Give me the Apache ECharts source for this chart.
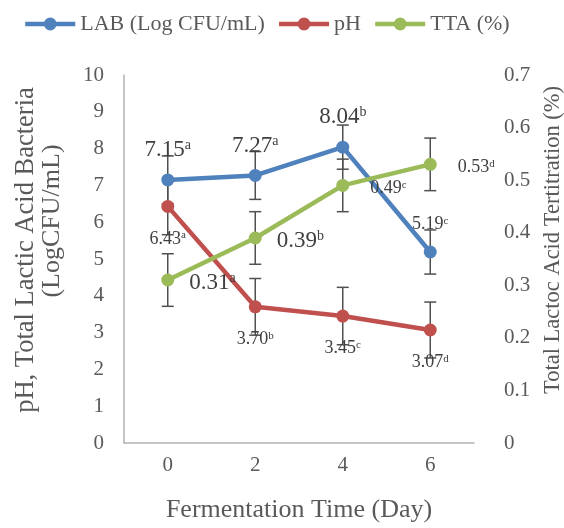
<!DOCTYPE html>
<html>
<head>
<meta charset="utf-8">
<script src="https://cdn.jsdelivr.net/npm/echarts@6/dist/echarts.min.js"></script>
<style>html,body{margin:0;padding:0;background:#fff}#c{width:564px;height:528px}</style>
</head>
<body>
<div id="c"></div>
<script>
// ---- data ----
var categories = ['0', '2', '4', '6'];
var labVals = [7.15, 7.27, 8.04, 5.19];
var phVals = [6.43, 3.70, 3.45, 3.07];
var ttaVals = [0.31, 0.39, 0.49, 0.53];
var labErr = [0.65, 0.65, 0.60, 0.60];
var phErr = [0.77, 0.77, 0.78, 0.76];
var ttaErr = [0.05, 0.05, 0.05, 0.05];
var labLetters = ['a', 'a', 'b', 'c'];
var phLetters = ['a', 'b', 'c', 'd'];
var ttaLetters = ['a', 'b', 'c', 'd'];
var leftTicks = [0, 10, 1];
var rightTicks = [0, 0.7, 0.1];
var seriesNames = ['LAB (Log CFU/mL)', 'pH', 'TTA (%)'];
var xTitle = 'Fermentation Time (Day)';
var leftTitle = ['pH, Total Lactic Acid Bacteria', '(LogCFU/mL)'];
var rightTitle = 'Total Lactoc Acid Tertitration (%)';

// ---- style ----
var FONT = 'Liberation Serif';
var colors = ['#4F81BD', '#C0504D', '#9BBB59'];
var big = {b: {fontSize: 23, fontFamily: FONT, color: '#404040'}, bs: {fontSize: 14, fontFamily: FONT, color: '#404040', verticalAlign: 'top', lineHeight: 14}};
var small = {b: {fontSize: 18, fontFamily: FONT, color: '#404040'}, bs: {fontSize: 11, fontFamily: FONT, color: '#404040', verticalAlign: 'top', lineHeight: 11}};
var labSize = ['big', 'big', 'big', 'small'];
var phSize = ['small', 'small', 'small', 'small'];
var ttaSize = ['big', 'big', 'small', 'small'];

function mkData(vals, letters, sizes, pos, distFn, offFn) {
  return vals.map(function (v, i) {
    return {
      value: v,
      label: {
        show: true,
        position: pos,
        distance: distFn(sizes[i]),
        offset: offFn ? offFn(sizes[i]) : [0, 0],
        formatter: '{b|' + v.toFixed(2) + '}{bs|' + letters[i] + '}',
        rich: sizes[i] === 'big' ? big : small
      }
    };
  });
}

function errData(vals, errs) {
  return vals.map(function (v, i) { return [i, v, errs[i]]; });
}

function errRender(params, api) {
  var x = api.value(0), v = api.value(1), e = api.value(2);
  var t = api.coord([x, v + e]);
  var b = api.coord([x, v - e]);
  var w = 6;
  var st = {stroke: '#505050', lineWidth: 1.5};
  return {
    type: 'group',
    children: [
      {type: 'line', shape: {x1: t[0], y1: t[1], x2: b[0], y2: b[1]}, style: st},
      {type: 'line', shape: {x1: t[0] - w, y1: t[1], x2: t[0] + w, y2: t[1]}, style: st},
      {type: 'line', shape: {x1: b[0] - w, y1: b[1], x2: b[0] + w, y2: b[1]}, style: st}
    ]
  };
}

var lineCommon = {
  type: 'line',
  symbol: 'circle',
  symbolSize: 13,
  z: 3,
  animation: false,
  lineStyle: {width: 4.5},
  emphasis: {disabled: true}
};

var chart = echarts.init(document.getElementById('c'), null, {renderer: 'canvas'});
chart.setOption({
  animation: false,
  color: colors,
  textStyle: {fontFamily: FONT},
  grid: {left: 124, right: 90, top: 75, bottom: 79, containLabel: false},
  legend: {
    data: seriesNames,
    top: 8,
    left: 18,
    itemWidth: 50,
    itemHeight: 16,
    itemGap: 12,
    lineStyle: {width: 4.5},
    textStyle: {fontSize: 22, fontFamily: FONT, color: '#595959'}
  },
  xAxis: {
    type: 'category',
    data: categories,
    boundaryGap: true,
    axisTick: {show: false},
    axisLine: {lineStyle: {color: '#b3b3b3', width: 1.5}},
    axisLabel: {fontSize: 21, fontFamily: FONT, color: '#595959', margin: 12},
    name: xTitle,
    nameLocation: 'middle',
    nameGap: 54,
    nameTextStyle: {fontSize: 26, fontFamily: FONT, color: '#595959'}
  },
  yAxis: [{
    type: 'value',
    min: leftTicks[0], max: leftTicks[1], interval: leftTicks[2],
    splitLine: {show: false},
    axisTick: {show: false},
    axisLine: {show: true, lineStyle: {color: '#b3b3b3', width: 1.5}},
    axisLabel: {fontSize: 21, fontFamily: FONT, color: '#595959', margin: 20}
  }, {
    type: 'value',
    position: 'right',
    min: rightTicks[0], max: rightTicks[1], interval: rightTicks[2],
    splitLine: {show: false},
    axisTick: {show: false},
    axisLine: {show: false},
    axisLabel: {fontSize: 21, fontFamily: FONT, color: '#595959', margin: 30, formatter: function (v) { return String(+v.toFixed(1)); }}
  }],
  graphic: [
    {type: 'text', x: 26, y: 250, rotation: Math.PI / 2, style: {text: leftTitle[0], fontSize: 26.5, fontFamily: FONT, fill: '#595959', align: 'center', verticalAlign: 'middle'}},
    {type: 'text', x: 52, y: 221, rotation: Math.PI / 2, style: {text: leftTitle[1], fontSize: 26, fontFamily: FONT, fill: '#595959', align: 'center', verticalAlign: 'middle'}},
    {type: 'text', x: 553, y: 240, rotation: Math.PI / 2, style: {text: rightTitle, fontSize: 22.5, fontFamily: FONT, fill: '#595959', align: 'center', verticalAlign: 'middle'}}
  ],
  series: [
    {type: 'custom', renderItem: errRender, data: errData(labVals, labErr), z: 1, silent: true, yAxisIndex: 0},
    {type: 'custom', renderItem: errRender, data: errData(phVals, phErr), z: 1, silent: true, yAxisIndex: 0},
    {type: 'custom', renderItem: errRender, data: errData(ttaVals, ttaErr), z: 1, silent: true, yAxisIndex: 1},
    Object.assign({}, lineCommon, {name: seriesNames[0], yAxisIndex: 0, data: mkData(labVals, labLetters, labSize, 'top', function () { return 12; })}),
    Object.assign({}, lineCommon, {name: seriesNames[1], yAxisIndex: 0, data: mkData(phVals, phLetters, phSize, 'bottom', function () { return 17; })}),
    Object.assign({}, lineCommon, {name: seriesNames[2], yAxisIndex: 1, data: mkData(ttaVals, ttaLetters, ttaSize, 'right', function (s) { return s === 'big' ? 15 : 21; }, function () { return [0, 3]; })})
  ]
});
</script>
</body>
</html>
